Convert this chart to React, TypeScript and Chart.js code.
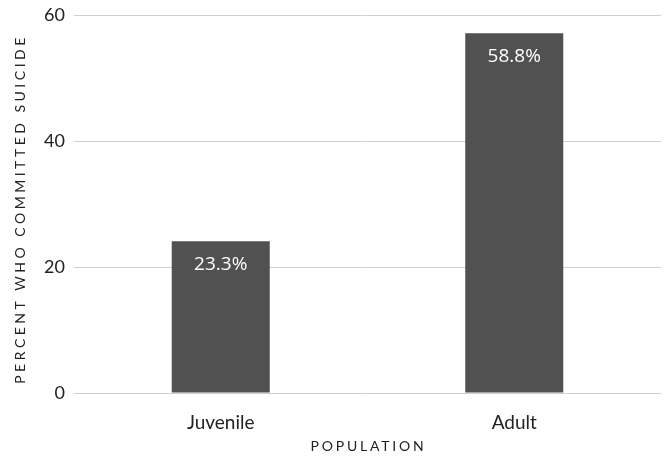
import React, { useEffect, useRef } from "react";
import { Chart, registerables } from "chart.js";

Chart.register(...registerables);

const categories: string[] = ["Juvenile", "Adult"];
const barValues: number[] = [24.1, 57.1];
const valueLabels: string[] = ["23.3%", "58.8%"];
const yTicks: number[] = [0, 20, 40, 60];
const xTitle = "POPULATION";
const yTitle = "PERCENT WHO COMMITTED SUICIDE";

const overlayPlugin = {
  id: "overlay",
  afterDatasetsDraw(chart: any) {
    const ctx = chart.ctx as CanvasRenderingContext2D;
    const meta = chart.getDatasetMeta(0);
    ctx.save();
    ctx.fillStyle = "#ffffff";
    ctx.font = '19px "Open Sans"';
    ctx.textAlign = "center";
    ctx.textBaseline = "middle";
    meta.data.forEach((bar: any, i: number) => {
      ctx.fillText(valueLabels[i], bar.x, bar.y + 23);
    });
    ctx.restore();
  },
  afterDraw(chart: any) {
    const ctx = chart.ctx as CanvasRenderingContext2D;
    const area = chart.chartArea;
    ctx.save();
    ctx.fillStyle = "#222222";
    ctx.font = "14px Lato";
    ctx.textAlign = "center";
    ctx.textBaseline = "middle";
    (ctx as any).letterSpacing = "2.8px";
    ctx.fillText(xTitle, (area.left + area.right) / 2 + 1, chart.height - 9.5);
    (ctx as any).letterSpacing = "3.5px";
    ctx.translate(20, (area.top + area.bottom) / 2 + 5);
    ctx.rotate(-Math.PI / 2);
    ctx.fillText(yTitle, 0, 0);
    ctx.restore();
  },
};

export default function App() {
  const ref = useRef<HTMLCanvasElement | null>(null);

  useEffect(() => {
    if (!ref.current) return;
    const chart = new Chart(ref.current, {
      type: "bar",
      data: {
        labels: categories,
        datasets: [
          {
            data: barValues,
            backgroundColor: "#515151",
            borderWidth: 0,
            categoryPercentage: 1,
            barPercentage: 0.334,
          },
        ],
      },
      options: {
        responsive: false,
        animation: false,
        devicePixelRatio: 1,
        layout: { padding: { top: 15, right: 6, left: 0, bottom: 0 } },
        plugins: {
          legend: { display: false },
          tooltip: { enabled: false },
        },
        scales: {
          x: {
            grid: { display: false, drawTicks: false },
            border: { display: false },
            ticks: {
              color: "#222222",
              font: { family: "Lato", size: 19 },
              padding: 18,
            },
            afterFit: (scale: any) => {
              scale.height = 63;
              scale.paddingLeft = 0;
              scale.paddingRight = 0;
            },
          },
          y: {
            min: 0,
            max: 60,
            grid: { color: "#d0d0d0", lineWidth: 1, drawTicks: false },
            border: { display: false },
            afterBuildTicks: (scale: any) => {
              scale.ticks = yTicks.map((v) => ({ value: v }));
            },
            ticks: {
              color: "#222222",
              font: { family: "Lato", size: 18 },
              padding: 9,
            },
            afterFit: (scale: any) => {
              scale.width = 74;
              scale.paddingTop = 0;
              scale.paddingBottom = 0;
            },
          },
        },
      },
      plugins: [overlayPlugin],
    });
    return () => chart.destroy();
  }, []);

  return (
    <div style={{ position: "fixed", left: 0, top: 0, width: 667, height: 456, background: "#ffffff" }}>
      <canvas ref={ref} width={667} height={456} style={{ display: "block" }} />
    </div>
  );
}
